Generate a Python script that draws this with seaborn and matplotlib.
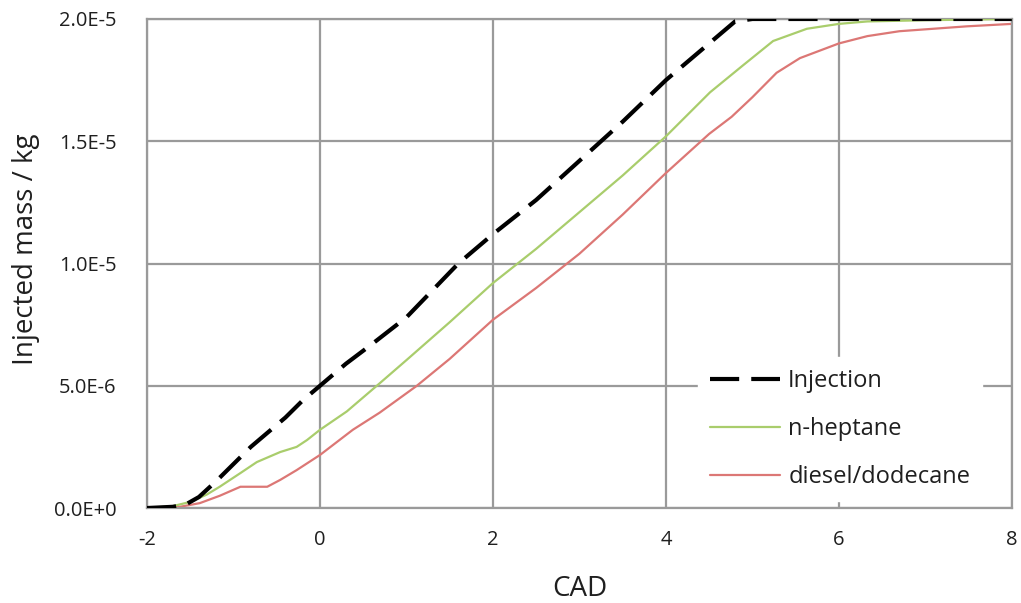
import numpy as np
import pandas as pd
import matplotlib
matplotlib.use("Agg")
import matplotlib.pyplot as plt
import seaborn as sns

# Injection rate profile (cumulative injected mass, kg) vs crank angle
inj_cad = [-2.0, -1.7, -1.55, -1.4, -1.2, -1.0, -0.8, -0.6, -0.4, -0.2, 0.0,
           0.3, 0.6, 1.0, 1.6, 2.0, 2.5, 3.0, 3.5, 4.0, 4.5, 4.8, 5.0, 6.0, 7.0, 8.0]
inj_mass = [0.0, 0.05e-6, 0.15e-6, 0.45e-6, 1.1e-6, 1.8e-6, 2.5e-6, 3.1e-6, 3.7e-6,
            4.4e-6, 5.0e-6, 5.9e-6, 6.7e-6, 7.8e-6, 10.0e-6, 11.2e-6, 12.6e-6, 14.2e-6,
            15.8e-6, 17.5e-6, 19.0e-6, 19.9e-6, 20.0e-6, 20.0e-6, 20.0e-6, 20.0e-6]

# n-heptane evaporated mass
hep_cad = [-2.0, -1.7, -1.5, -1.31, -1.16, -0.92, -0.73, -0.46, -0.27, -0.15, 0.0,
           0.31, 0.69, 1.0, 1.5, 2.0, 2.5, 3.0, 3.5, 4.0, 4.51, 4.89, 5.24, 5.63,
           6.0, 6.33, 7.0, 8.0]
hep_mass = [0.0, 0.08e-6, 0.25e-6, 0.55e-6, 0.87e-6, 1.43e-6, 1.88e-6, 2.29e-6,
            2.5e-6, 2.78e-6, 3.2e-6, 3.95e-6, 5.1e-6, 6.05e-6, 7.6e-6, 9.2e-6,
            10.6e-6, 12.1e-6, 13.6e-6, 15.2e-6, 17.0e-6, 18.1e-6, 19.1e-6, 19.6e-6,
            19.8e-6, 19.9e-6, 19.95e-6, 20.0e-6]

# diesel/dodecane evaporated mass
dod_cad = [-2.0, -1.62, -1.39, -1.16, -0.92, -0.61, -0.46, -0.27, 0.0, 0.38, 0.69,
           1.12, 1.5, 2.0, 2.5, 3.0, 3.5, 4.0, 4.5, 4.76, 5.0, 5.28, 5.55, 6.0,
           6.33, 6.7, 7.09, 7.48, 8.0]
dod_mass = [0.0, 0.05e-6, 0.2e-6, 0.5e-6, 0.87e-6, 0.87e-6, 1.15e-6, 1.55e-6,
            2.17e-6, 3.2e-6, 3.9e-6, 5.0e-6, 6.1e-6, 7.7e-6, 9.0e-6, 10.4e-6,
            12.0e-6, 13.7e-6, 15.3e-6, 16.0e-6, 16.8e-6, 17.8e-6, 18.4e-6, 19.0e-6,
            19.3e-6, 19.5e-6, 19.6e-6, 19.7e-6, 19.8e-6]

x_ticks = [-2, 0, 2, 4, 6, 8]
y_ticks = [0.0, 5.0e-6, 1.0e-5, 1.5e-5, 2.0e-5]
y_tick_labels = ["0.0E+0", "5.0E-6", "1.0E-5", "1.5E-5", "2.0E-5"]

sns.set_theme(style="white")
plt.rcParams["font.family"] = ["Open Sans", "DejaVu Sans"]

fig = plt.figure(figsize=(10.21, 6.03), dpi=100)
ax = fig.add_axes([0.144, 0.1575, 0.847, 0.811])

grid_col = "#9a9a9a"
text_col = "#1f1f1f"
ax.grid(True, color=grid_col, linewidth=1.6)
ax.set_axisbelow(True)

sns.lineplot(x=inj_cad, y=inj_mass, ax=ax, color="black", linewidth=3.0,
             label="Injection", zorder=4)
ax.lines[-1].set_dashes([7.0, 2.9])
sns.lineplot(x=hep_cad, y=hep_mass, ax=ax, color="#a9cd6c", linewidth=1.6,
             label="n-heptane", zorder=3)
sns.lineplot(x=dod_cad, y=dod_mass, ax=ax, color="#dc7775", linewidth=1.6,
             label="diesel/dodecane", zorder=2)

ax.set_xlim(-2, 8)
ax.set_ylim(0, 2.0e-5)
ax.set_xticks(x_ticks)
ax.set_xticklabels([str(t) for t in x_ticks])
ax.set_yticks(y_ticks)
ax.set_yticklabels(y_tick_labels)

for s in ax.spines.values():
    s.set_color(grid_col)
    s.set_linewidth(1.6)
ax.tick_params(axis="both", which="major", direction="out", length=6, width=1.4,
               color=grid_col, labelsize=14.5, labelcolor=text_col)
ax.tick_params(axis="x", pad=10)
ax.tick_params(axis="y", pad=16)

ax.set_xlabel("CAD", fontsize=20, color=text_col, labelpad=18)
ax.set_ylabel("Injected mass / kg", fontsize=20, color=text_col)
ax.yaxis.set_label_coords(-0.124, 0.53)

leg = ax.legend(loc="upper left", bbox_to_anchor=(0.624, 0.333), frameon=True,
                fancybox=False, edgecolor="white", facecolor="white", framealpha=1,
                fontsize=17, handlelength=2.96, labelspacing=1.03, handletextpad=0.34,
                borderpad=0.5)
for t in leg.get_texts():
    t.set_color(text_col)
leg.set_zorder(6)

fig.savefig("out.png", dpi=100, facecolor="white")
